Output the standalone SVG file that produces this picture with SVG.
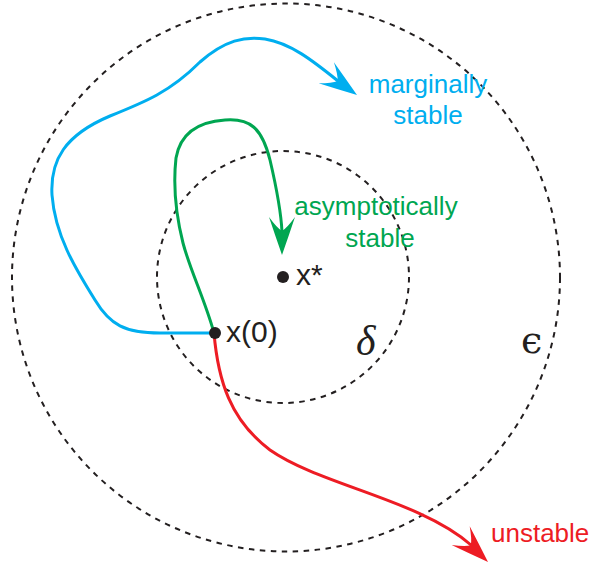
<svg xmlns="http://www.w3.org/2000/svg" xmlns:xlink="http://www.w3.org/1999/xlink" width="592" height="564" viewBox="0 0 592 564">
<style>
.reg{fill:none;stroke:#231f20;stroke-width:2;stroke-dasharray:5.5 5.5}
.traj{fill:none;stroke-width:3;stroke-linecap:round}
.lbl{font-family:"Liberation Sans",Arial,sans-serif;font-size:26px}
.pt{font-family:"Liberation Sans",Arial,sans-serif;font-size:30px;fill:#231f20}
.dot{fill:#231f20}
</style>
<defs>
<path id="ah" d="M0,0 Q-20,-7 -38,-13 Q-27,-5 -24,0 Q-27,5 -38,13 Q-20,7 0,0 Z"/>
</defs>
<rect width="592" height="564" fill="#fff"/>
<g id="epsilon-region">
<circle class="reg" cx="286" cy="277.5" r="274"/>
<text x="521" y="353" font-family="DejaVu Serif,serif" font-size="38" fill="#231f20">ϵ</text>
</g>
<g id="delta-region">
<circle class="reg" cx="283" cy="277" r="126"/>
<text x="356" y="355" font-family="Liberation Serif,serif" font-style="italic" font-size="42" fill="#231f20">δ</text>
</g>
<g id="connectors">
<path class="traj" stroke="#00aeef" d="M214,333 L160,333 C125,333 110,325 95,300 C75,268 55,235 52,195 C50,160 65,135 110,116 C145,102 170,92 200,62 C225,40 245,36 265,39 C290,43 312,60 338,81"/>
<use xlink:href="#ah" fill="#00aeef" transform="translate(357,95) rotate(36)"/>
<path class="traj" stroke="#00a651" d="M214,333 C205,300 190,270 183,243 C176,215 173,185 176,158 C180,135 195,122 225,120 C250,118 262,128 270,160 C277,190 281,210 282,232"/>
<use xlink:href="#ah" fill="#00a651" transform="translate(282,255) rotate(90)"/>
<path class="traj" stroke="#ed1c24" d="M214,333 C218,380 230,420 270,450 C320,485 420,500 471,545"/>
<use xlink:href="#ah" fill="#ed1c24" transform="translate(488,562) rotate(44)"/>
</g>
<g id="x0">
<circle class="dot" cx="215" cy="333" r="6"/>
<text class="pt" x="226" y="342">x(0)</text>
</g>
<g id="xstar">
<circle class="dot" cx="283" cy="277" r="6"/>
<text class="pt" x="296" y="285">x*</text>
</g>
<g id="label-marginal">
<text class="lbl" fill="#00aeef" text-anchor="middle" x="428" y="93">marginally</text>
<text class="lbl" fill="#00aeef" text-anchor="middle" x="428" y="124">stable</text>
</g>
<g id="label-asymptotic">
<text class="lbl" fill="#00a651" text-anchor="middle" x="376" y="215">asymptotically</text>
<text class="lbl" fill="#00a651" text-anchor="middle" x="380" y="247">stable</text>
</g>
<g id="label-unstable">
<text class="lbl" fill="#ed1c24" x="491" y="542">unstable</text>
</g>
</svg>
